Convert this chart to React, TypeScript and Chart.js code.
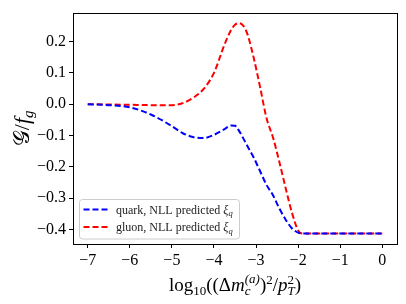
import React, { useEffect, useRef } from "react";
import { Chart, registerables } from "chart.js";

Chart.register(...registerables);

const xs = [-7, -6.5, -6, -5.5, -5, -4.75, -4.5, -4.25, -4, -3.75, -3.6, -3.5, -3.4, -3.3, -3.2, -3.05, -2.9, -2.75, -2.6, -2.45, -2.3, -2.15, -2, -1.9, -1.5, -1, -0.5, 0];
const quark = [0.0, -0.003, -0.01, -0.033, -0.07, -0.092, -0.105, -0.108, -0.098, -0.08, -0.068, -0.069, -0.086, -0.11, -0.135, -0.172, -0.215, -0.258, -0.29, -0.332, -0.368, -0.396, -0.41, -0.413, -0.413, -0.413, -0.413, -0.413];
const gluon = [0.0, -0.001, -0.002, -0.003, -0.003, 0.003, 0.02, 0.048, 0.1, 0.19, 0.235, 0.254, 0.259, 0.25, 0.222, 0.145, 0.052, -0.045, -0.105, -0.182, -0.266, -0.345, -0.403, -0.413, -0.413, -0.413, -0.413, -0.413];
const xTicks = [-7, -6, -5, -4, -3, -2, -1, 0];
const yTicks = [-0.4, -0.3, -0.2, -0.1, 0.0, 0.1, 0.2];
const legendLabels = ["quark, NLL predicted ", "gluon, NLL predicted "];
const legendSub = ["q", "q"];
const seriesColors = ["#0000ff", "#ff0000"];

const SERIF = "'Liberation Serif', 'DejaVu Serif', serif";

type Part = { t: string; size: number; dy?: number; it?: boolean; stack?: Part[] };

function partWidth(ctx: CanvasRenderingContext2D, p: Part): number {
  if (p.stack) return Math.max(...p.stack.map((q) => partWidth(ctx, q)));
  ctx.font = `${p.it ? "italic " : ""}${p.size}px ${SERIF}`;
  return ctx.measureText(p.t).width;
}

function drawRich(ctx: CanvasRenderingContext2D, parts: Part[], x: number, y: number, align: "center" | "left") {
  const total = parts.reduce((s, p) => s + partWidth(ctx, p), 0);
  let cx = align === "center" ? x - total / 2 : x;
  ctx.textAlign = "left";
  ctx.textBaseline = "alphabetic";
  const drawOne = (p: Part, px: number) => {
    ctx.font = `${p.it ? "italic " : ""}${p.size}px ${SERIF}`;
    ctx.fillText(p.t, px, y + (p.dy || 0));
  };
  for (const p of parts) {
    const w = partWidth(ctx, p);
    if (p.stack) p.stack.forEach((q) => drawOne(q, cx));
    else drawOne(p, cx);
    cx += w;
  }
}

const fmt = (v: number, d: number) => {
  const s = Math.abs(v).toFixed(d);
  return (v < -1e-9 ? "\u2212" : "") + s;
};

const decor = {
  id: "decor",
  afterDraw(chart: any) {
    const { ctx, chartArea: a } = chart;
    ctx.save();
    // spines
    ctx.strokeStyle = "#000";
    ctx.lineWidth = 1;
    ctx.setLineDash([]);
    ctx.strokeRect(Math.round(a.left) + 0.5, Math.round(a.top) + 0.5, Math.round(a.right - a.left), Math.round(a.bottom - a.top));

    // legend
    const bx = 79.5, by = 199.5, bw = 160, bh = 39.5, r = 3;
    ctx.beginPath();
    ctx.moveTo(bx + r, by);
    ctx.arcTo(bx + bw, by, bx + bw, by + bh, r);
    ctx.arcTo(bx + bw, by + bh, bx, by + bh, r);
    ctx.arcTo(bx, by + bh, bx, by, r);
    ctx.arcTo(bx, by, bx + bw, by, r);
    ctx.closePath();
    ctx.fillStyle = "rgba(255,255,255,0.8)";
    ctx.fill();
    ctx.strokeStyle = "#cccccc";
    ctx.lineWidth = 1;
    ctx.stroke();
    const rows = [209.5, 227];
    rows.forEach((ry, i) => {
      ctx.strokeStyle = seriesColors[i];
      ctx.lineWidth = 2;
      ctx.setLineDash([6, 3]);
      ctx.beginPath();
      ctx.moveTo(83.5, ry);
      ctx.lineTo(108, ry);
      ctx.stroke();
      ctx.setLineDash([]);
      ctx.fillStyle = "#222";
      drawRich(
        ctx,
        [
          { t: legendLabels[i], size: 12 },
          { t: "\u03be", size: 12, it: true },
          { t: legendSub[i], size: 8.5, it: true, dy: 2.5 },
        ],
        116,
        ry + 4,
        "left"
      );
    });

    // x-axis title
    ctx.fillStyle = "#000";
    const cx = (a.left + a.right) / 2;
    drawRich(
      ctx,
      [
        { t: "log", size: 19 },
        { t: "10", size: 13, dy: 4 },
        { t: "((\u0394", size: 19 },
        { t: "m", size: 19, it: true },
        { t: "", size: 13, stack: [{ t: "(a)", size: 13, it: true, dy: -8 }, { t: "c", size: 13, it: true, dy: 4 }] },
        { t: ")", size: 19 },
        { t: "2", size: 13, dy: -7 },
        { t: "/", size: 19 },
        { t: "p", size: 19, it: true },
        { t: "", size: 13, stack: [{ t: "2", size: 13, dy: -7 }, { t: "T", size: 13, it: true, dy: 4 }] },
        { t: ")", size: 19 },
      ],
      cx,
      291,
      "center"
    );

    // y-axis title
    ctx.save();
    ctx.translate(29, (a.top + a.bottom) / 2);
    ctx.rotate(-Math.PI / 2);
    drawRich(
      ctx,
      [
        { t: "\ud835\udca2", size: 22, it: false },
        { t: "/", size: 22 },
        { t: "f", size: 22, it: true },
        { t: "g", size: 15, it: true, dy: 4 },
      ],
      0,
      0,
      "center"
    );
    ctx.restore();
    ctx.restore();
  },
};

export default function App() {
  const ref = useRef<HTMLCanvasElement>(null);
  useEffect(() => {
    if (!ref.current) return;
    const mk = (ys: number[]) => xs.map((x, i) => ({ x, y: ys[i] }));
    const chart = new Chart(ref.current, {
      type: "line",
      data: {
        datasets: [
          { label: "quark", data: mk(quark), borderColor: seriesColors[0], borderWidth: 2, borderDash: [6, 3], pointRadius: 0, cubicInterpolationMode: "monotone", fill: false },
          { label: "gluon", data: mk(gluon), borderColor: seriesColors[1], borderWidth: 2, borderDash: [6, 3], pointRadius: 0, cubicInterpolationMode: "monotone", fill: false },
        ],
      },
      options: {
        responsive: false,
        animation: false,
        layout: { padding: { top: 10, right: 9, left: 0, bottom: 0 } },
        plugins: { legend: { display: false }, tooltip: { enabled: false } },
        scales: {
          x: {
            type: "linear",
            min: -7.35,
            max: 0.35,
            afterBuildTicks: (s: any) => {
              s.ticks = xTicks.map((v) => ({ value: v }));
            },
            afterFit: (s: any) => {
              s.height = 60;
            },
            ticks: { callback: (v: any) => fmt(Number(v), 0), color: "#000", font: { family: SERIF, size: 16 }, padding: 3, maxRotation: 0, autoSkip: false },
            grid: { drawOnChartArea: false, drawTicks: true, tickLength: 4, color: "#000", lineWidth: 1 },
            border: { display: false },
          },
          y: {
            type: "linear",
            min: -0.4465,
            max: 0.2925,
            afterBuildTicks: (s: any) => {
              s.ticks = yTicks.map((v) => ({ value: v }));
            },
            afterFit: (s: any) => {
              s.width = 73;
            },
            ticks: { callback: (v: any) => fmt(Number(v), 1), color: "#000", font: { family: SERIF, size: 16 }, padding: 3, autoSkip: false },
            grid: { drawOnChartArea: false, drawTicks: true, tickLength: 4, color: "#000", lineWidth: 1 },
            border: { display: false },
          },
        },
      },
      plugins: [decor],
    });
    return () => chart.destroy();
  }, []);
  return (
    <div style={{ position: "fixed", left: 0, top: 0, width: 406, height: 304, background: "#fff" }}>
      <canvas ref={ref} width={406} height={304} style={{ display: "block" }} />
    </div>
  );
}
